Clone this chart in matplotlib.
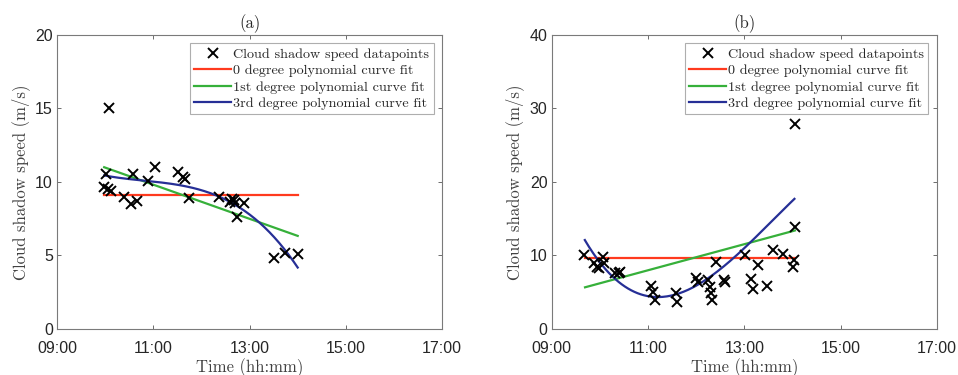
import numpy as np
import matplotlib
matplotlib.use("Agg")
import matplotlib.pyplot as plt

# ---- data (time in decimal hours, speed in m/s) ----
time_a = [10.09, 10.02, 9.98, 10.05, 10.12, 10.40, 10.54, 10.58, 10.66, 10.90,
          11.03, 11.51, 11.62, 11.65, 11.75, 12.36, 12.60, 12.67, 12.70, 12.64,
          12.73, 12.88, 13.50, 13.74, 14.00]
speed_a = [15.0, 10.54, 9.64, 9.52, 9.39, 9.0, 8.5, 10.52, 8.73, 10.07,
           11.0, 10.7, 10.36, 10.2, 8.93, 8.96, 8.66, 8.78, 8.55, 8.85,
           7.6, 8.6, 4.81, 5.19, 5.1]

time_b = [9.66, 9.87, 9.93, 9.98, 10.07, 10.09, 10.32, 10.39, 10.42,
          11.06, 11.10, 11.15, 11.59, 11.61, 11.99, 12.03, 12.25, 12.29,
          12.30, 12.32, 12.42, 12.58, 12.60, 13.02, 13.14, 13.17, 13.29,
          13.48, 13.60, 13.81, 14.05, 14.05, 14.04, 14.02]
speed_b = [10.07, 8.93, 8.48, 8.34, 9.84, 8.93, 7.66, 7.57, 7.8,
           5.9, 5.08, 3.95, 4.85, 3.72, 6.9, 6.44, 6.67, 5.76,
           4.85, 3.95, 9.07, 6.67, 6.44, 10.07, 6.85, 5.49, 8.71,
           5.9, 10.75, 10.16, 27.9, 13.92, 9.39, 8.48]

# fitted curves of panel (b) (time, speed samples)
fit_b0_time = [9.69, 14.05]
fit_b0_speed = [9.6, 9.6]
fit_b1_time = [9.69, 14.05]
fit_b1_speed = [5.67, 13.4]
fit_b3_time = [9.686, 10.337, 11.237, 11.93, 12.968, 14.04]
fit_b3_speed = [11.9, 7.12, 4.26, 5.22, 11.2, 17.6]

panel_titles = ["(a)", "(b)"]
ylims = [20, 40]
yticks = [[0, 5, 10, 15, 20], [0, 10, 20, 30, 40]]
xticks = [9, 11, 13, 15, 17]
xtick_labels = ["09:00", "11:00", "13:00", "15:00", "17:00"]
fit_degrees = [0, 1, 3]
fit_labels = ["0 degree polynomial curve fit", "1st degree polynomial curve fit",
              "3rd degree polynomial curve fit"]
fit_colors = ["#ff3a1e", "#36b03a", "#262f96"]

serif = ["cmr10", "DejaVu Serif"]
tick_color = "#262626"

fig = plt.figure(figsize=(9.58, 3.75), dpi=100)
positions = [[0.0595, 0.1227, 0.402, 0.784], [0.576, 0.1227, 0.402, 0.784]]

fit_sources = [
    [(time_a, speed_a)] * 3,
    [(fit_b0_time, fit_b0_speed), (fit_b1_time, fit_b1_speed), (fit_b3_time, fit_b3_speed)],
]

for i, (t, s) in enumerate([(time_a, speed_a), (time_b, speed_b)]):
    ax = fig.add_axes(positions[i])
    t = np.asarray(t); s = np.asarray(s)
    ax.plot(t, s, linestyle="none", marker="x", color="black", markersize=7,
            markeredgewidth=1.4, label="Cloud shadow speed datapoints", zorder=3)
    for (ft, fs), deg, lab, col in zip(fit_sources[i], fit_degrees, fit_labels, fit_colors):
        ft = np.asarray(ft, float); fs = np.asarray(fs, float)
        p = np.polyfit(ft, fs, deg)
        tt = np.linspace(ft.min(), ft.max(), 200)
        ax.plot(tt, np.polyval(p, tt), color=col, linewidth=1.6, label=lab, zorder=2)
    ax.set_xlim(9, 17)
    ax.set_ylim(0, ylims[i])
    ax.set_xticks(xticks)
    ax.set_xticklabels(xtick_labels)
    ax.set_yticks(yticks[i])
    ax.tick_params(direction="in", top=True, right=True, length=3, width=0.6,
                   color="#555555", labelcolor=tick_color, labelsize=11.5)
    ax.tick_params(axis="x", pad=9)
    ax.tick_params(axis="y", pad=3)
    for lbl in ax.get_xticklabels() + ax.get_yticklabels():
        lbl.set_fontfamily(["Liberation Sans", "DejaVu Sans"])
    for sp in ax.spines.values():
        sp.set_color("#7a7a7a")
        sp.set_linewidth(0.8)
    ax.set_title(panel_titles[i], fontfamily=serif, fontsize=12, color=tick_color, pad=5)
    ax.set_xlabel("Time (hh:mm)", fontfamily=serif, fontsize=12, color="#404040", labelpad=1)
    ax.set_ylabel("Cloud shadow speed (m/s)", fontfamily=serif, fontsize=12, color="#404040", labelpad=4)
    leg = ax.legend(loc="upper right", prop={"family": serif, "size": 10.2},
                    frameon=True, fancybox=False, edgecolor="#9a9a9a",
                    handlelength=2.6, handletextpad=0.15, borderpad=0.3,
                    labelspacing=0.25, borderaxespad=0.6)
    leg.get_frame().set_linewidth(0.8)
    for txt in leg.get_texts():
        txt.set_color(tick_color)

fig.savefig("out.png", dpi=100)
